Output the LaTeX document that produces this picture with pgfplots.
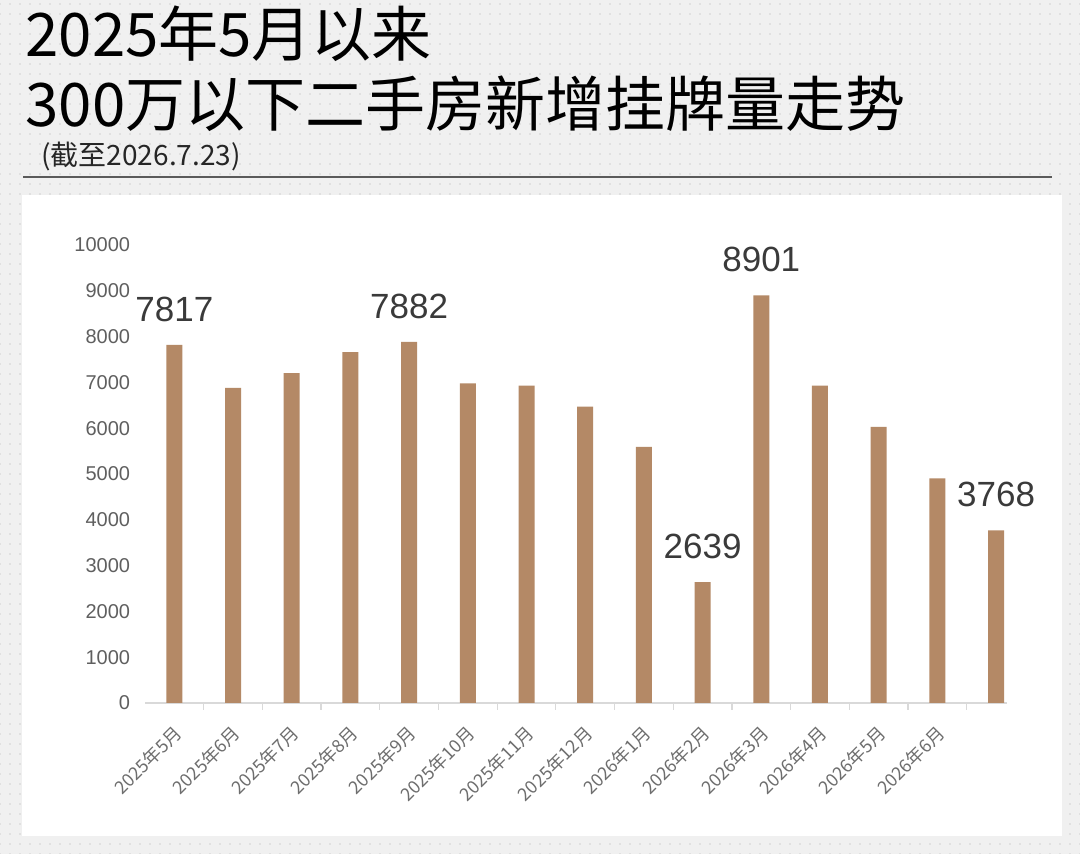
\documentclass[border=0pt]{standalone}
\usepackage{fontspec}
\setmainfont{Liberation Sans}
\newfontfamily\cjk{Noto Sans CJK SC}
\usepackage{pgfplots}
\pgfplotsset{compat=1.18}
\usetikzlibrary{patterns.meta}
\definecolor{barc}{RGB}{180,137,102}
\definecolor{bg}{RGB}{240,240,240}
\definecolor{dotc}{RGB}{208,208,208}
\definecolor{tickc}{RGB}{95,95,95}
\definecolor{xtickc}{RGB}{110,110,110}
\definecolor{labc}{RGB}{58,58,58}
\definecolor{axc}{RGB}{217,217,217}
\definecolor{rulec}{RGB}{90,90,90}
\begin{document}
\begin{tikzpicture}
\useasboundingbox (0pt,0pt) rectangle (540pt,427pt);
\fill[bg] (0pt,0pt) rectangle (540pt,427pt);
\fill[pattern={Dots[distance=5pt,radius=0.45pt]}, pattern color=dotc] (0pt,0pt) rectangle (540pt,427pt);
\fill[white] (11pt,9pt) rectangle (531pt,329.5pt);
\draw[rulec, line width=0.9pt] (11.5pt,338.5pt) -- (526pt,338.5pt);
\node[anchor=base west, inner sep=0pt, font=\cjk\fontsize{30}{34}\selectfont, text=black] at (12.5pt,398.5pt) {2025年5月以来};
\node[anchor=base west, inner sep=0pt, font=\cjk\fontsize{30}{34}\selectfont, text=black] at (12.5pt,363.5pt) {300万以下二手房新增挂牌量走势};
\node[anchor=base west, inner sep=0pt, font=\cjk\fontsize{14}{16}\selectfont, text=black!85] at (20.5pt,344pt) {(截至2026.7.23)};
\begin{axis}[
  at={(72.5pt,75.5pt)}, anchor=south west,
  scale only axis, width=430.8pt, height=229pt,
  xmin=-0.5, xmax=14.18, ymin=0, ymax=10000,
  axis x line*=bottom, axis y line*=left,
  y axis line style={draw=none},
  x axis line style={axc, line width=0.8pt},
  ytick={0,1000,...,10000},
  scaled y ticks=false,
  ytick style={draw=none},
  xtick={0,...,13},
  xticklabels={2025年5月,2025年6月,2025年7月,2025年8月,2025年9月,2025年10月,2025年11月,2025年12月,2026年1月,2026年2月,2026年3月,2026年4月,2026年5月,2026年6月},
  major x tick style={draw=none},
  minor xtick={0.5,1.5,...,13.5},
  minor x tick style={axc, line width=0.6pt},
  minor tick length=3.5pt,
  tick align=outside,
  yticklabel style={font=\fontsize{10}{12}\selectfont, text=tickc, inner sep=0pt, xshift=-3pt},
  xticklabel style={font=\cjk\fontsize{9}{10}\selectfont, text=xtickc, inner sep=0pt, xshift=2pt, yshift=-9pt, rotate=45, anchor=east},
  /pgf/number format/assume math mode=true,
  /pgf/number format/1000 sep={},
  clip=false,
]
\addplot[ybar, bar width=8pt, fill=barc, draw=none] coordinates {
(0,7817) (1,6880) (2,7200) (3,7660) (4,7882) (5,6980) (6,6930) (7,6470)
(8,5590) (9,2639) (10,8901) (11,6930) (12,6030) (13,4905) (14,3768)};
\addplot[draw=none, mark=none, nodes near coords, point meta=explicit symbolic,
  nodes near coords style={anchor=south, inner sep=0pt, yshift=11.5pt, font=\fontsize{17.5}{20}\selectfont, text=labc}]
  coordinates {(0,7817)[7817] (4,7882)[7882] (9,2639)[2639] (10,8901)[8901] (14,3768)[3768]};
\end{axis}
\end{tikzpicture}
\end{document}
